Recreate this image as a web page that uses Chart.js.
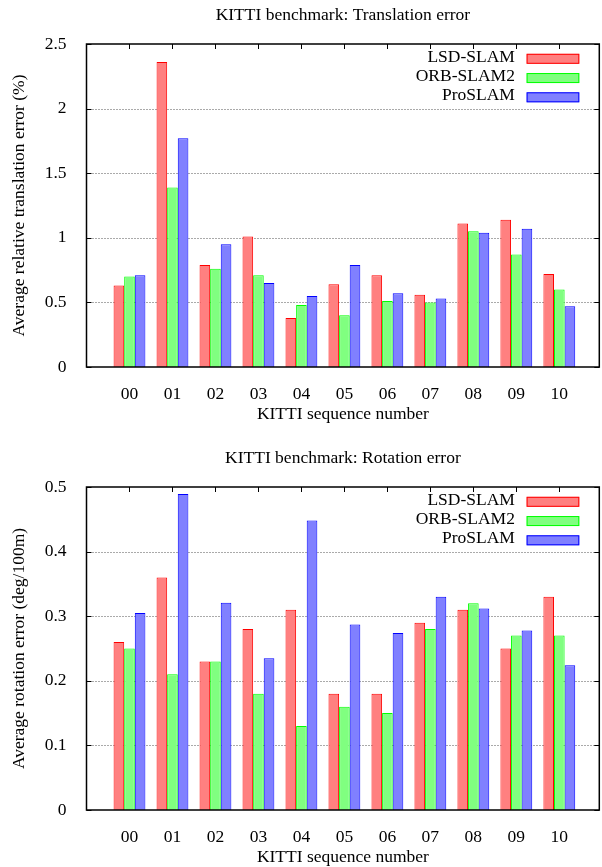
<!DOCTYPE html>
<html>
<head>
<meta charset="utf-8">
<script src="https://cdn.jsdelivr.net/npm/chart.js@4/dist/chart.umd.min.js"></script>
<style>
  html, body { margin:0; padding:0; background:#fff; overflow:hidden; width:602px; height:867px; }
  canvas { position:absolute; left:0; }
  #trans { top:0; }
  #rot   { top:443px; }
</style>
</head>
<body>
<canvas id="trans" width="602" height="443"></canvas>
<canvas id="rot" width="602" height="443"></canvas>
<script>
// ── DATA ────────────────────────────────────────────────
const SEQUENCES = ['00','01','02','03','04','05','06','07','08','09','10'];
const SERIES    = ['LSD-SLAM', 'ORB-SLAM2', 'ProSLAM'];

const TRANS_LSD = [0.63, 2.36, 0.79, 1.01, 0.38, 0.64, 0.71, 0.56, 1.11, 1.14, 0.72];
const TRANS_ORB = [0.70, 1.39, 0.76, 0.71, 0.48, 0.40, 0.51, 0.50, 1.05, 0.87, 0.60];
const TRANS_PRO = [0.71, 1.77, 0.95, 0.65, 0.55, 0.79, 0.57, 0.53, 1.04, 1.07, 0.47];

const ROT_LSD = [0.26, 0.36, 0.23, 0.28, 0.31, 0.18, 0.18, 0.29, 0.31, 0.25, 0.33];
const ROT_ORB = [0.25, 0.21, 0.23, 0.18, 0.13, 0.16, 0.15, 0.28, 0.32, 0.27, 0.27];
const ROT_PRO = [0.305, 0.489, 0.321, 0.235, 0.448, 0.287, 0.274, 0.330, 0.312, 0.278, 0.224];

const TRANS_TICKS = { max:2.5, step:0.5 };
const ROT_TICKS   = { max:0.5, step:0.1 };

const FILLS   = ['#ff8080', '#80ff80', '#8080ff'];
const STROKES = ['#ff0000', '#00ff00', '#0000ff'];
const FONT    = "'Liberation Serif', 'DejaVu Serif', serif";
const FSIZE   = 17.5;

Chart.defaults.font.family = FONT;
Chart.defaults.font.size = FSIZE;
Chart.defaults.color = '#000';

// ── FRAME / GRID / LEGEND / TITLE PLUGIN ────────────────
const gnuplotFrame = {
  id: 'gnuplotFrame',
  beforeDatasetsDraw(chart) {
    const { ctx, chartArea:a, scales:{ x, y } } = chart;
    ctx.save();
    // dotted grid
    ctx.strokeStyle = '#555';
    ctx.lineWidth = 1;
    ctx.setLineDash([1, 2]);
    y.ticks.forEach(t => {
      if (t.value <= y.min || t.value >= y.max) return;
      const py = Math.round(y.getPixelForValue(t.value)) + 0.5;
      ctx.beginPath(); ctx.moveTo(a.left, py); ctx.lineTo(a.right, py); ctx.stroke();
    });
    // inward ticks
    ctx.setLineDash([]);
    ctx.strokeStyle = '#000';
    y.ticks.forEach(t => {
      const py = Math.round(y.getPixelForValue(t.value)) + 0.5;
      ctx.beginPath();
      ctx.moveTo(a.left, py);  ctx.lineTo(a.left + 5, py);
      ctx.moveTo(a.right, py); ctx.lineTo(a.right - 5, py);
      ctx.stroke();
    });
    x.ticks.forEach(t => {
      if (t.value < 0) return;
      const px = Math.round(x.getPixelForValue(t.value)) + 0.5;
      ctx.beginPath();
      ctx.moveTo(px, a.top);    ctx.lineTo(px, a.top + 5);
      ctx.moveTo(px, a.bottom); ctx.lineTo(px, a.bottom - 5);
      ctx.stroke();
    });
    ctx.restore();
  },
  afterDatasetsDraw(chart) {
    const { ctx, chartArea:a } = chart;
    ctx.save();
    ctx.strokeStyle = '#000';
    ctx.lineWidth = 1.5;
    ctx.strokeRect(a.left, a.top, a.right - a.left, a.bottom - a.top);

    ctx.font = `${FSIZE}px ${FONT}`;
    ctx.textBaseline = 'middle';
    ctx.fillStyle = '#000';

    // title, centred over the plot area like gnuplot does
    ctx.textAlign = 'center';
    ctx.fillText(chart.options.plotTitle, (a.left + a.right) / 2, 15);

    // legend: text right-aligned, swatch on the right
    ctx.textAlign = 'right';
    ctx.lineWidth = 1;
    chart.data.datasets.forEach((ds, i) => {
      const cy = a.top + 14.8 + i * 19.25;
      const sx = a.right - 72.7;
      ctx.fillStyle = ds.backgroundColor;
      ctx.fillRect(sx, cy - 5, 52.7, 10);
      ctx.strokeStyle = ds.borderColor;
      ctx.strokeRect(sx + 0.5, cy - 4.5, 51.7, 9);
      ctx.fillStyle = '#000';
      ctx.fillText(ds.label, sx - 11.7, cy - 1.5);
    });
    ctx.restore();
  }
};

// ── BUILD CHART ─────────────────────────────────────────
const makeChart = (id, title, yTitle, series, ticks) => {
  const ctx = document.getElementById(id).getContext('2d');
  return new Chart(ctx, {
    type: 'bar',
    data: {
      datasets: series.map((vals, i) => ({
        label: SERIES[i],
        data: SEQUENCES.map((s, k) => ({ x:k, y:vals[k] })),
        backgroundColor: FILLS[i],
        borderColor: STROKES[i],
        borderWidth: 1,
        borderSkipped: 'start',
        categoryPercentage: 0.74,
        barPercentage: 1.0,
      }))
    },
    options: {
      responsive: false,
      animation: false,
      plotTitle: title,
      layout: { padding: { left:0, right:2.7, top:44, bottom:0 } },
      plugins: {
        legend: { display:false },
        tooltip: { enabled:false },
        title: { display:false },
      },
      scales: {
        x: {
          type: 'linear',
          offset: false,
          min: -1, max: 10.93,
          grid: { display:false, offset:false },
          border: { display:false },
          ticks: {
            stepSize: 1,
            includeBounds: false,
            autoSkip: false,
            maxRotation: 0,
            padding: 8.5,
            callback: v => (Number.isInteger(v) && v >= 0 && v < SEQUENCES.length) ? SEQUENCES[v] : '',
          },
          title: { display:true, text:'KITTI sequence number', padding:{ top:0, bottom:18 } },
          afterFit: s => { s.height = 76; },
        },
        y: {
          min: 0, max: ticks.max,
          grid: { display:false },
          border: { display:false },
          ticks: {
            stepSize: ticks.step,
            padding: 12,
            callback: v => String(Math.round(v * 100) / 100),
          },
          title: { display:true, text:yTitle, padding:{ top:8.5, bottom:0 } },
          afterFit: s => { s.width = 86.5; },
        }
      }
    },
    plugins: [gnuplotFrame]
  });
};

// ── START ───────────────────────────────────────────────
makeChart('trans', 'KITTI benchmark: Translation error', 'Average relative translation error (%)',
  [TRANS_LSD, TRANS_ORB, TRANS_PRO], TRANS_TICKS);
makeChart('rot', 'KITTI benchmark: Rotation error', 'Average rotation error (deg/100m)',
  [ROT_LSD, ROT_ORB, ROT_PRO], ROT_TICKS);
</script>
</body>
</html>
